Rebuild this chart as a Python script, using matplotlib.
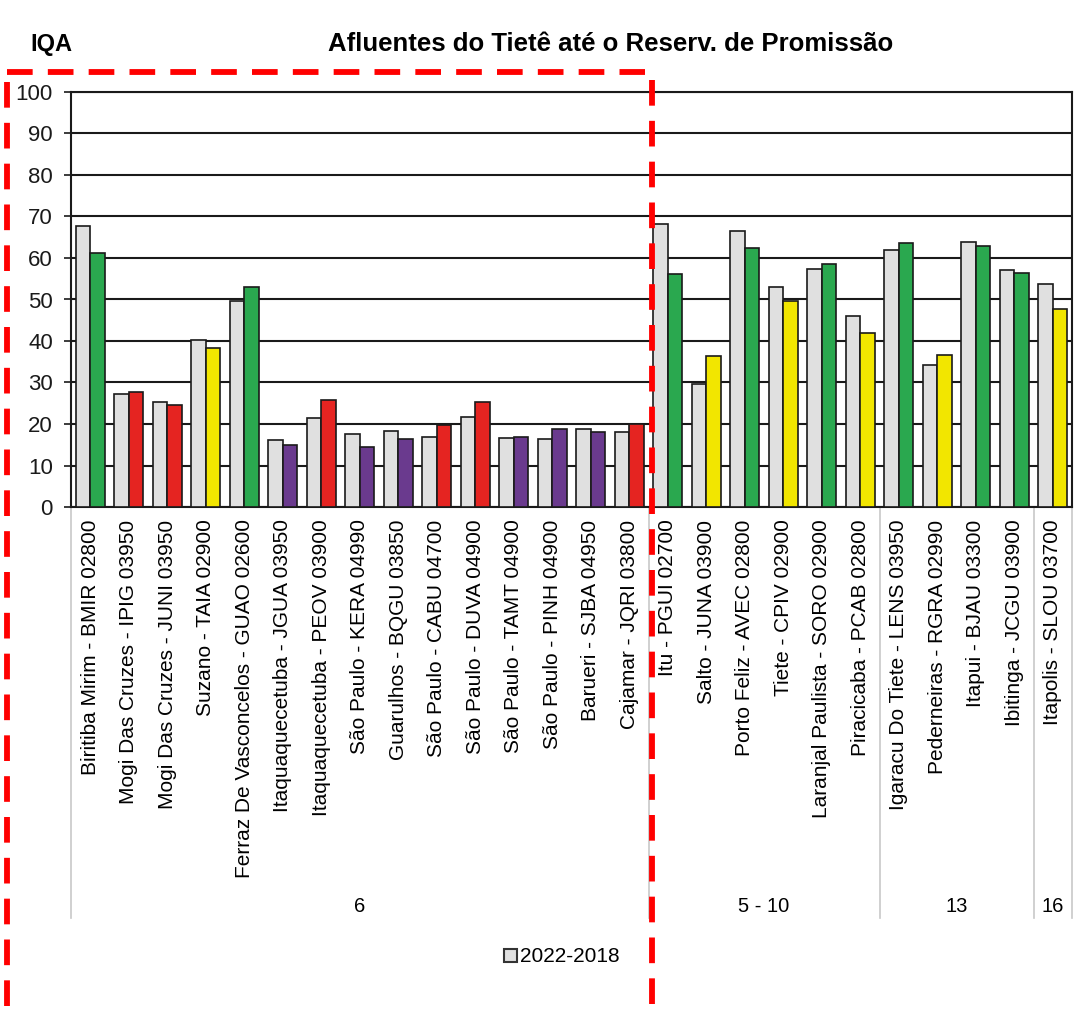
import numpy as np
import matplotlib.pyplot as plt
from matplotlib.lines import Line2D
from matplotlib.patches import Patch

plt.rcParams['font.family'] = ['Liberation Sans', 'DejaVu Sans']

stations = [
    'Biritiba Mirim - BMIR 02800', 'Mogi Das Cruzes - IPIG 03950', 'Mogi Das Cruzes - JUNI 03950',
    'Suzano - TAIA 02900', 'Ferraz De Vasconcelos - GUAO 02600', 'Itaquaquecetuba - JGUA 03950',
    'Itaquaquecetuba - PEOV 03900', 'São Paulo - KERA 04990', 'Guarulhos - BQGU 03850',
    'São Paulo - CABU 04700', 'São Paulo - DUVA 04900', 'São Paulo - TAMT 04900',
    'São Paulo - PINH 04900', 'Barueri - SJBA 04950', 'Cajamar - JQRI 03800',
    'Itu - PGUI 02700', 'Salto - JUNA 03900', 'Porto Feliz - AVEC 02800', 'Tiete - CPIV 02900',
    'Laranjal Paulista - SORO 02900', 'Piracicaba - PCAB 02800',
    'Igaracu Do Tiete - LENS 03950', 'Pederneiras - RGRA 02990', 'Itapui - BJAU 03300',
    'Ibitinga - JCGU 03900', 'Itapolis - SLOU 03700',
]
mean_2022_2018 = [67.8, 27.2, 25.3, 40.3, 49.6, 16.1, 21.5, 17.5, 18.2, 16.9, 21.7, 16.6, 16.4, 18.7, 18.1,
                  68.2, 29.7, 66.6, 53.1, 57.4, 46.0,
                  61.9, 34.3, 63.8, 57.2, 53.8]
iqa_2023 = [61.2, 27.8, 24.5, 38.2, 52.9, 15.0, 25.7, 14.5, 16.4, 19.7, 25.3, 16.9, 18.7, 18.0, 20.1,
            56.1, 36.4, 62.3, 49.7, 58.6, 42.0,
            63.5, 36.7, 62.8, 56.5, 47.7]
classe_2023 = ['Boa', 'Ruim', 'Ruim', 'Regular', 'Boa', 'Pessima', 'Ruim', 'Pessima', 'Pessima',
               'Ruim', 'Ruim', 'Pessima', 'Pessima', 'Pessima', 'Ruim',
               'Boa', 'Regular', 'Boa', 'Regular', 'Boa', 'Regular',
               'Boa', 'Regular', 'Boa', 'Boa', 'Regular']
ugrhi = ['6', '5 - 10', '13', '16']
ugrhi_sizes = [15, 6, 4, 1]

cores = {'Boa': '#2aa84f', 'Regular': '#f2e600', 'Ruim': '#e52421', 'Pessima': '#6a3a8e'}

fig = plt.figure(figsize=(10.92, 10.09), dpi=100)
ax = fig.add_axes([71 / 1092, 1 - 507 / 1009, (1072 - 71) / 1092, (507 - 92) / 1009])

x = np.arange(len(stations))
w = 0.375
ax.bar(x - w / 2, mean_2022_2018, w, color='#e0e0e0', edgecolor='#1a1a1a', linewidth=1.2, zorder=3)
ax.bar(x + w / 2, iqa_2023, w, color=[cores[c] for c in classe_2023],
       edgecolor='#1a1a1a', linewidth=1.2, zorder=3)

ax.set_xlim(-0.5, len(stations) - 0.5)
ax.set_ylim(0, 100)
ax.set_yticks(range(0, 101, 10))
ax.yaxis.grid(True, color='#1a1a1a', linewidth=1.5, zorder=0)
ax.tick_params(axis='y', labelsize=16, length=5, width=1.2, pad=8, colors='#1a1a1a')
ax.set_xticks(x)
ax.set_xticklabels(stations, rotation=90, va='top', ha='center', fontsize=15)
ax.tick_params(axis='x', length=0, pad=9)
for s in ax.spines.values():
    s.set_color('#1a1a1a')
    s.set_linewidth(1.5)

# separadores e rótulos das UGRHIs
bounds = np.concatenate([[0], np.cumsum(ugrhi_sizes)]) - 0.5
y_low = -(918 - 507) / 415
for b in bounds:
    ax.add_line(Line2D([b, b], [0, y_low], transform=ax.get_xaxis_transform(),
                       color='#c8c8c8', linewidth=1.2, clip_on=False))
for i, lab in enumerate(ugrhi):
    ax.text((bounds[i] + bounds[i + 1]) / 2, -(906 - 507) / 415, lab,
            transform=ax.get_xaxis_transform(), ha='center', va='center', fontsize=14.5)

fig.text(30 / 1092, 1 - 44 / 1009, 'IQA', fontsize=17, fontweight='bold', va='center')
fig.text(611 / 1092, 1 - 44 / 1009, 'Afluentes do Tietê até o Reserv. de Promissão',
         fontsize=18.5, fontweight='bold', ha='center', va='center')

fig.legend(handles=[Patch(facecolor='#e0e0e0', edgecolor='#333333', linewidth=1.5)], labels=['2022-2018'],
           loc='center', bbox_to_anchor=(562 / 1092, 1 - 957 / 1009), frameon=False, fontsize=15,
           handlelength=0.6, handleheight=0.6, handletextpad=0.15)

# destaque tracejado vermelho
dash = dict(color='#ff0000', linewidth=4.2, linestyle=(0, (4.4, 2.6)), transform=fig.transFigure)
fig.add_artist(Line2D([7 / 1092, 645 / 1092], [1 - 72 / 1009, 1 - 72 / 1009], **dash))
fig.add_artist(Line2D([7 / 1092, 7 / 1092], [1 - 82 / 1009, 0], **dash))
fig.add_artist(Line2D([652 / 1092, 652 / 1092], [1 - 80 / 1009, 0], **dash))

fig.savefig('out.png', dpi=100)
